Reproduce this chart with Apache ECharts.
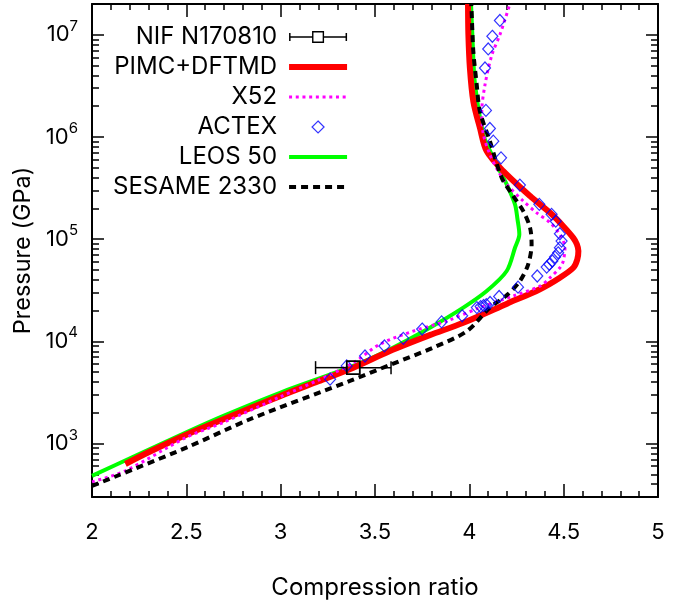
<!DOCTYPE html>
<html>
<head>
<meta charset="utf-8">
<script src="https://cdn.jsdelivr.net/npm/echarts@6/dist/echarts.min.js"></script>
<style>
  html, body { margin: 0; padding: 0; background: #fff; }
  #chart { width: 690px; height: 607px; }
</style>
</head>
<body>
<div id="chart"></div>
<script>
// NIF N170810 point with horizontal error bar
var nifX = [3.385];
var nifP = [5530];
var nifXLow = [3.185];
var nifXHigh = [3.585];

// PIMC+DFTMD
var pimcX = [2.177, 2.3, 2.5, 2.7, 3.0, 3.2, 3.385, 3.579, 3.79, 3.968, 4.2, 4.374, 4.48, 4.551, 4.572, 4.578, 4.57, 4.551, 4.498, 4.428, 4.322, 4.18, 4.092, 4.056, 4.021, 4.003, 3.995, 3.993];
var pimcP = [631, 822, 1220, 1740, 2930, 4070, 5530, 8050, 11500, 15200, 23400, 32400, 42000, 52500, 63100, 76600, 89100, 103000, 134000, 181000, 264000, 463000, 726000, 1230000, 2240000, 4730000, 10000000, 20000000];

// X52
var x52X = [2.0, 2.177, 2.5, 2.7, 3.0, 3.2, 3.385, 3.526, 3.703, 3.88, 4.056, 4.233, 4.374, 4.428, 4.48, 4.498, 4.507, 4.48, 4.428, 4.357, 4.286, 4.198, 4.153, 4.109, 4.074, 4.066, 4.083, 4.119, 4.162, 4.215];
var x52P = [422, 541, 1150, 1620, 2880, 4170, 6170, 9380, 12600, 15800, 21400, 27800, 34700, 42000, 52500, 61100, 82400, 111000, 145000, 181000, 236000, 344000, 463000, 676000, 1070000, 1780000, 3240000, 6310000, 10000000, 20000000];

// ACTEX
var actexX = [3.262, 3.35, 3.447, 3.55, 3.65, 3.75, 3.853, 3.962, 4.04, 4.06, 4.075, 4.09, 4.11, 4.158, 4.258, 4.36, 4.41, 4.424, 4.44, 4.454, 4.471, 4.48, 4.489, 4.48, 4.458, 4.436, 4.371, 4.268, 4.168, 4.127, 4.109, 4.088, 4.083, 4.10, 4.122, 4.162];
var actexP = [4270, 5750, 7190, 9020, 10700, 13200, 15500, 17800, 21400, 21900, 22400, 22900, 24000, 27500, 33900, 43600, 53300, 56800, 61100, 66800, 73600, 82400, 95700, 113000, 150000, 175000, 219000, 338000, 625000, 910000, 1210000, 1820000, 4730000, 7260000, 9660000, 13800000];

// LEOS 50
var leosX = [2.0, 2.23, 2.5, 2.7, 3.0, 3.385, 3.579, 3.791, 3.968, 4.092, 4.198, 4.242, 4.265, 4.255, 4.242, 4.198, 4.162, 4.11, 4.074, 4.03, 4.016, 4.009];
var leosP = [483, 759, 1290, 1880, 3160, 5750, 8380, 13600, 21400, 31100, 48800, 82400, 112000, 158000, 219000, 344000, 463000, 726000, 1060000, 3260000, 10000000, 20000000];

// SESAME 2330
var sesX = [2.0, 2.5, 2.837, 3.367, 3.58, 3.81, 3.987, 4.109, 4.198, 4.268, 4.312, 4.33, 4.322, 4.286, 4.233, 4.172, 4.109, 4.056, 4.039, 4.021, 4.012, 4.01];
var sesP = [385, 912, 1730, 4100, 5890, 8710, 12600, 21400, 28200, 38900, 56800, 88900, 129000, 188000, 264000, 398000, 910000, 1780000, 3270000, 6920000, 17000000, 20000000];

var yMajor = [1e3, 1e4, 1e5, 1e6, 1e7];

function pairs(xs, ys) {
  return xs.map(function (x, i) { return [x, ys[i]]; });
}

// minor log ticks 2..9 x 10^k inside the range
var yMinor = [];
for (var k = 2; k <= 7; k++) {
  for (var m = 2; m <= 9; m++) {
    var v = m * Math.pow(10, k);
    if (v > 300 && v < 2e7) yMinor.push(v);
  }
}

var FONT = 'Inter';

// legend icons, drawn in a 65x12 box; the first 7px stay blank as a gap after the text
var BOX = 'M0 0M65 12';
var nifIcon = 'path://' + BOX + 'M7 2h1.5v8H7z M8.5 5.3h21.5v1.4H8.5z M30 0H42V12H30z M31.4 1.4V10.6H40.6V1.4z M42 5.3h21.5v1.4H42z M63.5 2H65v8h-1.5z';
var pimcIcon = 'path://' + BOX + 'M7 3h58v6H7z';
var leosIcon = 'path://' + BOX + 'M7 4h58v4H7z';
var sesIcon = 'path://' + BOX + 'M7 4h7v4H7z M19 4h7v4h-7z M31 4h7v4h-7z M43 4h7v4h-7z M55 4h7v4h-7z';
var x52Icon = 'path://' + BOX + 'M7 4.5h3v3H7z M13.7 4.5h3v3h-3z M20.4 4.5h3v3h-3z M27.1 4.5h3v3h-3z M33.8 4.5h3v3h-3z M40.5 4.5h3v3h-3z M47.2 4.5h3v3h-3z M53.9 4.5h3v3h-3z M60.6 4.5h3v3h-3z';
var actexIcon = 'path://' + BOX + 'M36 0L42 6L36 12L30 6Z';

var chart = echarts.init(document.getElementById('chart'));

var frameLine = { show: true, onZero: false, lineStyle: { color: '#000', width: 2 } };
var tickStyle = { color: '#000', width: 1.5 };

chart.setOption({
  animation: false,
  textStyle: { fontFamily: FONT, color: '#000' },
  grid: { left: 92, right: 32, top: 4, bottom: 110 },
  legend: {
    orient: 'vertical',
    align: 'right',
    left: 108,
    top: 20,
    itemWidth: 65,
    itemHeight: 12,
    itemGap: 6,
    selectedMode: false,
    textStyle: { fontSize: 24, fontFamily: FONT, color: '#000' },
    data: [
      { name: 'NIF N170810', icon: nifIcon },
      { name: 'PIMC+DFTMD', icon: pimcIcon },
      { name: 'X52', icon: x52Icon },
      { name: 'ACTEX', icon: actexIcon, itemStyle: { color: 'rgba(0,0,0,0)', borderColor: '#0000ff', borderWidth: 1.2 } },
      { name: 'LEOS 50', icon: leosIcon },
      { name: 'SESAME 2330', icon: sesIcon }
    ]
  },
  xAxis: [
    {
      type: 'value', position: 'bottom', min: 2, max: 5, interval: 0.5,
      name: 'Compression ratio', nameLocation: 'middle', nameGap: 79,
      nameTextStyle: { fontSize: 24, fontFamily: FONT, color: '#000' },
      axisLine: frameLine,
      axisTick: { inside: true, length: 13, lineStyle: tickStyle },
      minorTick: { show: true, splitNumber: 5, length: 6, lineStyle: tickStyle },
      axisLabel: { fontSize: 22, margin: 24, color: '#000', fontFamily: FONT },
      splitLine: { show: false }
    },
    {
      type: 'value', position: 'top', min: 2, max: 5, interval: 0.5,
      axisLine: frameLine,
      axisTick: { inside: true, length: 13, lineStyle: tickStyle },
      minorTick: { show: true, splitNumber: 5, length: 6, lineStyle: tickStyle },
      axisLabel: { show: false },
      splitLine: { show: false }
    }
  ],
  yAxis: [
    {
      type: 'log', logBase: 10, position: 'left', min: 300, max: 2e7,
      name: 'Pressure (GPa)', nameLocation: 'middle', nameGap: 52,
      nameTextStyle: { fontSize: 23.5, fontFamily: FONT, color: '#000' },
      axisLine: frameLine,
      axisTick: { inside: true, length: 12, customValues: yMajor, lineStyle: tickStyle },
      axisLabel: {
        customValues: yMajor, margin: 14,
        formatter: function (v) {
          return '{b|10}{s|' + Math.round(Math.log10(v)) + '}';
        },
        rich: {
          b: { fontSize: 22, fontFamily: FONT, color: '#000', lineHeight: 32 },
          s: { fontSize: 15, fontFamily: FONT, color: '#000', lineHeight: 15, verticalAlign: 'top' }
        }
      },
      splitLine: { show: false }
    },
    {
      type: 'log', logBase: 10, position: 'left', min: 300, max: 2e7,
      axisLine: { show: false },
      axisTick: { inside: true, length: 7, customValues: yMinor, lineStyle: tickStyle },
      axisLabel: { show: false },
      splitLine: { show: false }
    },
    {
      type: 'log', logBase: 10, position: 'right', min: 300, max: 2e7,
      axisLine: frameLine,
      axisTick: { inside: true, length: 12, customValues: yMajor, lineStyle: tickStyle },
      axisLabel: { show: false },
      splitLine: { show: false }
    },
    {
      type: 'log', logBase: 10, position: 'right', min: 300, max: 2e7,
      axisLine: { show: false },
      axisTick: { inside: true, length: 7, customValues: yMinor, lineStyle: tickStyle },
      axisLabel: { show: false },
      splitLine: { show: false }
    }
  ],
  series: [
    {
      name: 'NIF N170810',
      type: 'custom',
      z: 10,
      itemStyle: { color: '#000' },
      data: nifX.map(function (x, i) { return [x, nifP[i], nifXLow[i], nifXHigh[i]]; }),
      encode: { x: [0, 2, 3], y: 1 },
      renderItem: function (params, api) {
        var c = api.coord([api.value(0), api.value(1)]);
        var lo = api.coord([api.value(2), api.value(1)]);
        var hi = api.coord([api.value(3), api.value(1)]);
        var h = 6.5, s = 6.5;
        var st = { stroke: '#000', lineWidth: 1.5, fill: null };
        return {
          type: 'group',
          children: [
            { type: 'line', shape: { x1: lo[0], y1: c[1], x2: c[0] - s, y2: c[1] }, style: st },
            { type: 'line', shape: { x1: c[0] + s, y1: c[1], x2: hi[0], y2: c[1] }, style: st },
            { type: 'line', shape: { x1: lo[0], y1: c[1] - h, x2: lo[0], y2: c[1] + h }, style: st },
            { type: 'line', shape: { x1: hi[0], y1: c[1] - h, x2: hi[0], y2: c[1] + h }, style: st },
            { type: 'rect', shape: { x: c[0] - s, y: c[1] - s, width: 2 * s, height: 2 * s }, style: { stroke: '#000', lineWidth: 1.8, fill: 'none' } }
          ]
        };
      }
    },
    {
      name: 'PIMC+DFTMD', type: 'line', data: pairs(pimcX, pimcP),
      symbol: 'none', smooth: 0.3, z: 3,
      itemStyle: { color: '#ff0000' },
      lineStyle: { color: '#ff0000', width: 6 }
    },
    {
      name: 'X52', type: 'line', data: pairs(x52X, x52P),
      symbol: 'none', smooth: 0.3, z: 4,
      itemStyle: { color: '#ff00ff' },
      lineStyle: { color: '#ff00ff', width: 3, type: [3, 3.7] }
    },
    {
      name: 'ACTEX', type: 'scatter', data: pairs(actexX, actexP),
      symbol: 'diamond', symbolSize: [11, 12], z: 5,
      itemStyle: { color: 'rgba(0,0,0,0)', borderColor: '#0000ff', borderWidth: 1.2 }
    },
    {
      name: 'LEOS 50', type: 'line', data: pairs(leosX, leosP),
      symbol: 'none', smooth: 0.3, z: 2,
      itemStyle: { color: '#00ff00' },
      lineStyle: { color: '#00ff00', width: 4 }
    },
    {
      name: 'SESAME 2330', type: 'line', data: pairs(sesX, sesP),
      symbol: 'none', smooth: 0.3, z: 4,
      itemStyle: { color: '#000' },
      lineStyle: { color: '#000', width: 4, type: [7, 5] }
    }
  ]
});
</script>
</body>
</html>
